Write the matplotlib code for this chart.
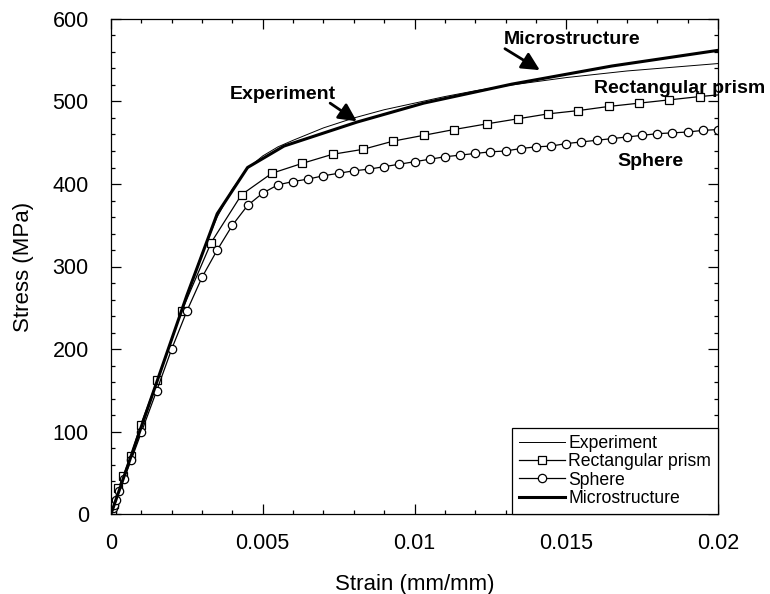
import numpy as np
import matplotlib
matplotlib.use("Agg")
import matplotlib.pyplot as plt
from matplotlib.ticker import MultipleLocator

plt.rcParams['font.family'] = ['Liberation Sans', 'DejaVu Sans']

# Datos (deformación en mm/mm, esfuerzo en MPa)
exp_strain = [0, 0.0005, 0.001, 0.0015, 0.002, 0.0025, 0.003, 0.0035, 0.004, 0.0045,
              0.005, 0.0055, 0.006, 0.007, 0.008, 0.009, 0.010, 0.011, 0.012, 0.013,
              0.014, 0.015, 0.016, 0.017, 0.018, 0.019, 0.020]
exp_stress = [0, 52, 104, 158, 212, 266, 316, 360, 394, 419,
              434, 445, 453, 468, 480, 490, 498, 506, 513, 519,
              524, 529, 533, 537, 540, 543, 546]

rect_strain = [0, 0.0001, 0.00024, 0.0004, 0.00065, 0.00098, 0.00153, 0.00233, 0.0033,
               0.0043, 0.0053, 0.0063, 0.0073, 0.0083, 0.0093, 0.0103, 0.0113, 0.0124,
               0.0134, 0.0144, 0.0154, 0.0164, 0.0174, 0.0184, 0.0194, 0.020]
rect_stress = [0, 12, 31, 46, 70, 108, 162, 246, 329,
               387, 413, 425, 436, 442, 452, 459, 466, 473,
               479, 485, 489, 494, 498, 502, 506, 508]

sph_strain = [0, 0.00003, 0.00007, 0.0001, 0.00016, 0.00026, 0.00043, 0.00066, 0.001,
              0.0015, 0.002, 0.0025, 0.003, 0.0035, 0.004, 0.0045, 0.005, 0.0055,
              0.006, 0.0065, 0.007, 0.0075, 0.008, 0.0085, 0.009, 0.0095, 0.010,
              0.0105, 0.011, 0.0115, 0.012, 0.0125, 0.013, 0.0135, 0.014, 0.0145,
              0.015, 0.0155, 0.016, 0.0165, 0.017, 0.0175, 0.018, 0.0185, 0.019,
              0.0195, 0.020]
sph_stress = [0, 3, 7, 11, 17, 28, 43, 65, 99,
              149, 200, 246, 287, 320, 350, 374, 389, 399,
              403, 406, 410, 413, 416, 418, 421, 424, 427,
              430, 433, 435, 437, 439, 440, 443, 445, 446,
              449, 451, 453, 455, 457, 459, 461, 462, 463,
              465, 466]

micro_strain = [0, 0.0025, 0.0035, 0.0045, 0.0057, 0.0081, 0.0103, 0.0132, 0.0165, 0.020]
micro_stress = [0, 265, 364, 420, 446, 475, 498, 521, 543, 562]

fig = plt.figure(figsize=(7.7, 5.94), dpi=100)
ax = fig.add_axes([111 / 770, 80 / 594, 607 / 770, 495 / 594])

ax.plot(exp_strain, exp_stress, color='black', lw=0.7, label='Experiment')
ax.plot(rect_strain, rect_stress, color='black', lw=0.9, marker='s', ms=5.5,
        mfc='white', mec='black', mew=0.9, markevery=list(range(len(rect_strain) - 1)),
        label='Rectangular prism')
ax.plot(sph_strain, sph_stress, color='black', lw=0.9, marker='o', ms=6,
        mfc='white', mec='black', mew=0.9, label='Sphere')
ax.plot(micro_strain, micro_stress, color='black', lw=2.2, label='Microstructure')

ax.set_xlim(0, 0.02)
ax.set_ylim(0, 600)
ax.xaxis.set_major_locator(MultipleLocator(0.005))
ax.xaxis.set_minor_locator(MultipleLocator(0.001))
ax.yaxis.set_major_locator(MultipleLocator(100))
ax.yaxis.set_minor_locator(MultipleLocator(20))
ax.set_xticks([0, 0.005, 0.01, 0.015, 0.02])
ax.set_xticklabels(['0', '0.005', '0.01', '0.015', '0.02'])
ax.tick_params(which='both', direction='in', top=True, right=True, width=0.9)
ax.tick_params(which='major', length=7, labelsize=15.5)
ax.tick_params(axis='x', which='major', pad=14)
ax.tick_params(axis='y', which='major', pad=16)
ax.tick_params(which='minor', length=3)
for sp in ax.spines.values():
    sp.set_linewidth(0.9)

ax.set_xlabel('Strain (mm/mm)', fontsize=16, labelpad=14)
ax.set_ylabel('Stress (MPa)', fontsize=16, labelpad=13)

# Etiquetas con flechas
arrow = dict(arrowstyle='-|>', color='black', lw=2, mutation_scale=27, shrinkA=0, shrinkB=0)
ax.text(0.00565, 508, 'Experiment', fontsize=14, fontweight='bold', ha='center', va='center')
ax.annotate('', xy=(0.0081, 476), xytext=(0.00722, 498), arrowprops=arrow)
ax.text(0.0152, 575, 'Microstructure', fontsize=14, fontweight='bold', ha='center', va='center')
ax.annotate('', xy=(0.01413, 538), xytext=(0.01298, 564), arrowprops=arrow)
ax.text(0.01873, 516, 'Rectangular prism', fontsize=14, fontweight='bold',
        ha='center', va='center', clip_on=False)
ax.text(0.01778, 427, 'Sphere', fontsize=14, fontweight='bold', ha='center', va='center')

leg = ax.legend(loc='lower right', fontsize=12.7, borderaxespad=0, fancybox=False,
                edgecolor='black', framealpha=1, handlelength=2.6, labelspacing=0.08,
                handletextpad=0.2, borderpad=0.4)
leg.get_frame().set_linewidth(0.9)

fig.savefig('out.png', dpi=100)
